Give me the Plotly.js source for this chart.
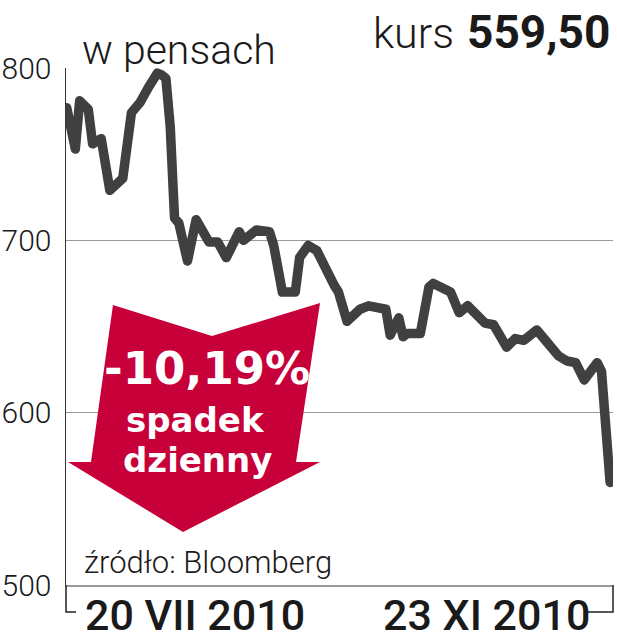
<!DOCTYPE html>
<html>
<head>
<meta charset="utf-8">
<script src="https://cdn.plot.ly/plotly-3.0.1.min.js"></script>
<style>
  html, body { margin: 0; padding: 0; background: #ffffff; }
  #chart { width: 617px; height: 640px; }
  .scatterlayer .js-line { stroke-linejoin: round; stroke-linecap: round; }
</style>
</head>
<body>
<div id="chart"></div>
<script>
// Kurs akcji (w pensach), 20 VII 2010 – 23 XI 2010
const dates = [
  "2010-07-20","2010-07-22","2010-07-23","2010-07-25","2010-07-26","2010-07-28","2010-07-30",
  "2010-08-02","2010-08-04","2010-08-06","2010-08-08","2010-08-10","2010-08-11","2010-08-12",
  "2010-08-13","2010-08-14","2010-08-15","2010-08-17","2010-08-19","2010-08-22","2010-08-24",
  "2010-08-26","2010-08-29","2010-08-30","2010-09-02","2010-09-05","2010-09-06","2010-09-08",
  "2010-09-11","2010-09-12","2010-09-14","2010-09-16","2010-09-20","2010-09-21","2010-09-23",
  "2010-09-26","2010-09-28","2010-10-02","2010-10-03","2010-10-05","2010-10-06","2010-10-07",
  "2010-10-10","2010-10-12","2010-10-13","2010-10-16","2010-10-17","2010-10-19","2010-10-21",
  "2010-10-25","2010-10-27","2010-10-30","2010-11-01","2010-11-03","2010-11-06","2010-11-07",
  "2010-11-11","2010-11-13","2010-11-15","2010-11-17","2010-11-20","2010-11-21","2010-11-23"
];
const prices = [
  777,753,781,776,756,759,729,
  736,774,780,789,797,796,794,
  766,713,710,688,712,699,699,
  690,705,700,706,705,697,670,
  670,690,697,694,674,670,653,
  660,662,660,645,655,644,646,
  646,673,675,671,670,658,662,
  652,651,638,643,642,648,645,
  633,630,629,619,629,624,559.5
];
const yTicks = [500, 600, 700, 800];
const dateLabels = ["20 VII 2010", "23 XI 2010"];
const unitLabel = "w pensach";
const lastLabel = "kurs";
const lastValue = "559,50";
const changeLines = ["-10,19%", "spadek", "dzienny"];
const sourceLabel = "źródło: Bloomberg";

// page-pixel -> paper helpers
const W = 617, H = 640;
const M = {l: 66, r: 4, t: 68, b: 55};
const PW = W - M.l - M.r, PH = H - M.t - M.b;
const px = x => (x - M.l) / PW;
const py = y => (H - M.b - y) / PH;

const LIGHT = "Roboto, 'Open Sans', sans-serif";
const ARROW_FONT = "'DejaVu Sans', Verdana, sans-serif";
const RED = "#c8003a";

const arrowPts = [[113,305],[212,336],[320,303],[296,462],[320,462],[183,532],[68,462],[91,462]];
const arrowPath = "M " + arrowPts.map(p => px(p[0]).toFixed(4) + "," + py(p[1]).toFixed(4)).join(" L ") + " Z";

const trace = {
  x: dates, y: prices, type: "scatter", mode: "lines",
  line: {color: "#404040", width: 9.5},
  hoverinfo: "skip"
};

const shapes = [
  {type: "path", xref: "paper", yref: "paper", path: arrowPath,
   fillcolor: RED, line: {width: 0}, layer: "above"},
  // bracket under the x axis
  {type: "path", xref: "paper", yref: "paper",
   path: `M ${px(66)},${py(585)} L ${px(66)},${py(612)} L ${px(76)},${py(612)}`,
   line: {color: "#222", width: 1.5}},
  {type: "path", xref: "paper", yref: "paper",
   path: `M ${px(588)},${py(612)} L ${px(613)},${py(612)} L ${px(613)},${py(585)}`,
   line: {color: "#222", width: 1.5}}
];

const ann = (text, x, y, size, opts) => Object.assign({
  text: text, xref: "paper", yref: "paper", x: px(x), y: py(y),
  showarrow: false, xanchor: "left", yanchor: "middle",
  font: {family: LIGHT, size: size, color: "#1a1a1a", weight: 300}
}, opts || {});

const annotations = [
  ann(unitLabel, 80, 50, 41),
  ann(lastLabel, 456, 33, 43, {xanchor: "right"}),
  ann(lastValue, 465, 32, 46, {font: {family: LIGHT, size: 46, color: "#1a1a1a", weight: 700}}),
  ann(sourceLabel, 82, 562, 31),
  ann(dateLabels[0], 195, 615, 43, {xanchor: "center", font: {family: LIGHT, size: 43, color: "#1a1a1a", weight: 500}}),
  ann(dateLabels[1], 486, 615, 43, {xanchor: "center", font: {family: LIGHT, size: 43, color: "#1a1a1a", weight: 500}}),
  ann(changeLines[0], 207, 368, 45, {xanchor: "center", font: {family: ARROW_FONT, size: 45, color: "#ffffff", weight: 700}}),
  ann(changeLines[1], 195, 420, 34, {xanchor: "center", font: {family: ARROW_FONT, size: 34, color: "#ffffff", weight: 700}}),
  ann(changeLines[2], 197, 460, 34, {xanchor: "center", font: {family: ARROW_FONT, size: 34, color: "#ffffff", weight: 700}})
];

const layout = {
  width: W, height: H,
  margin: M,
  paper_bgcolor: "#ffffff", plot_bgcolor: "#ffffff",
  showlegend: false,
  xaxis: {
    type: "date",
    range: ["2010-07-19 20:00", "2010-11-23 16:00"],
    showgrid: false, zeroline: false,
    showticklabels: false, ticks: "",
    showline: true, linecolor: "#9a9a9a", linewidth: 1.5
  },
  yaxis: {
    range: [500, 800],
    tickvals: yTicks, ticktext: yTicks.map(String),
    showgrid: true, gridcolor: "#9a9a9a", gridwidth: 1.5,
    zeroline: false,
    showline: true, linecolor: "#333333", linewidth: 1.5,
    ticks: "", ticklabelstandoff: 7,
    tickfont: {family: LIGHT, size: 30, color: "#1a1a1a", weight: 300}
  },
  shapes: shapes,
  annotations: annotations
};

Plotly.newPlot("chart", [trace], layout, {displayModeBar: false, staticPlot: true});
</script>
</body>
</html>
